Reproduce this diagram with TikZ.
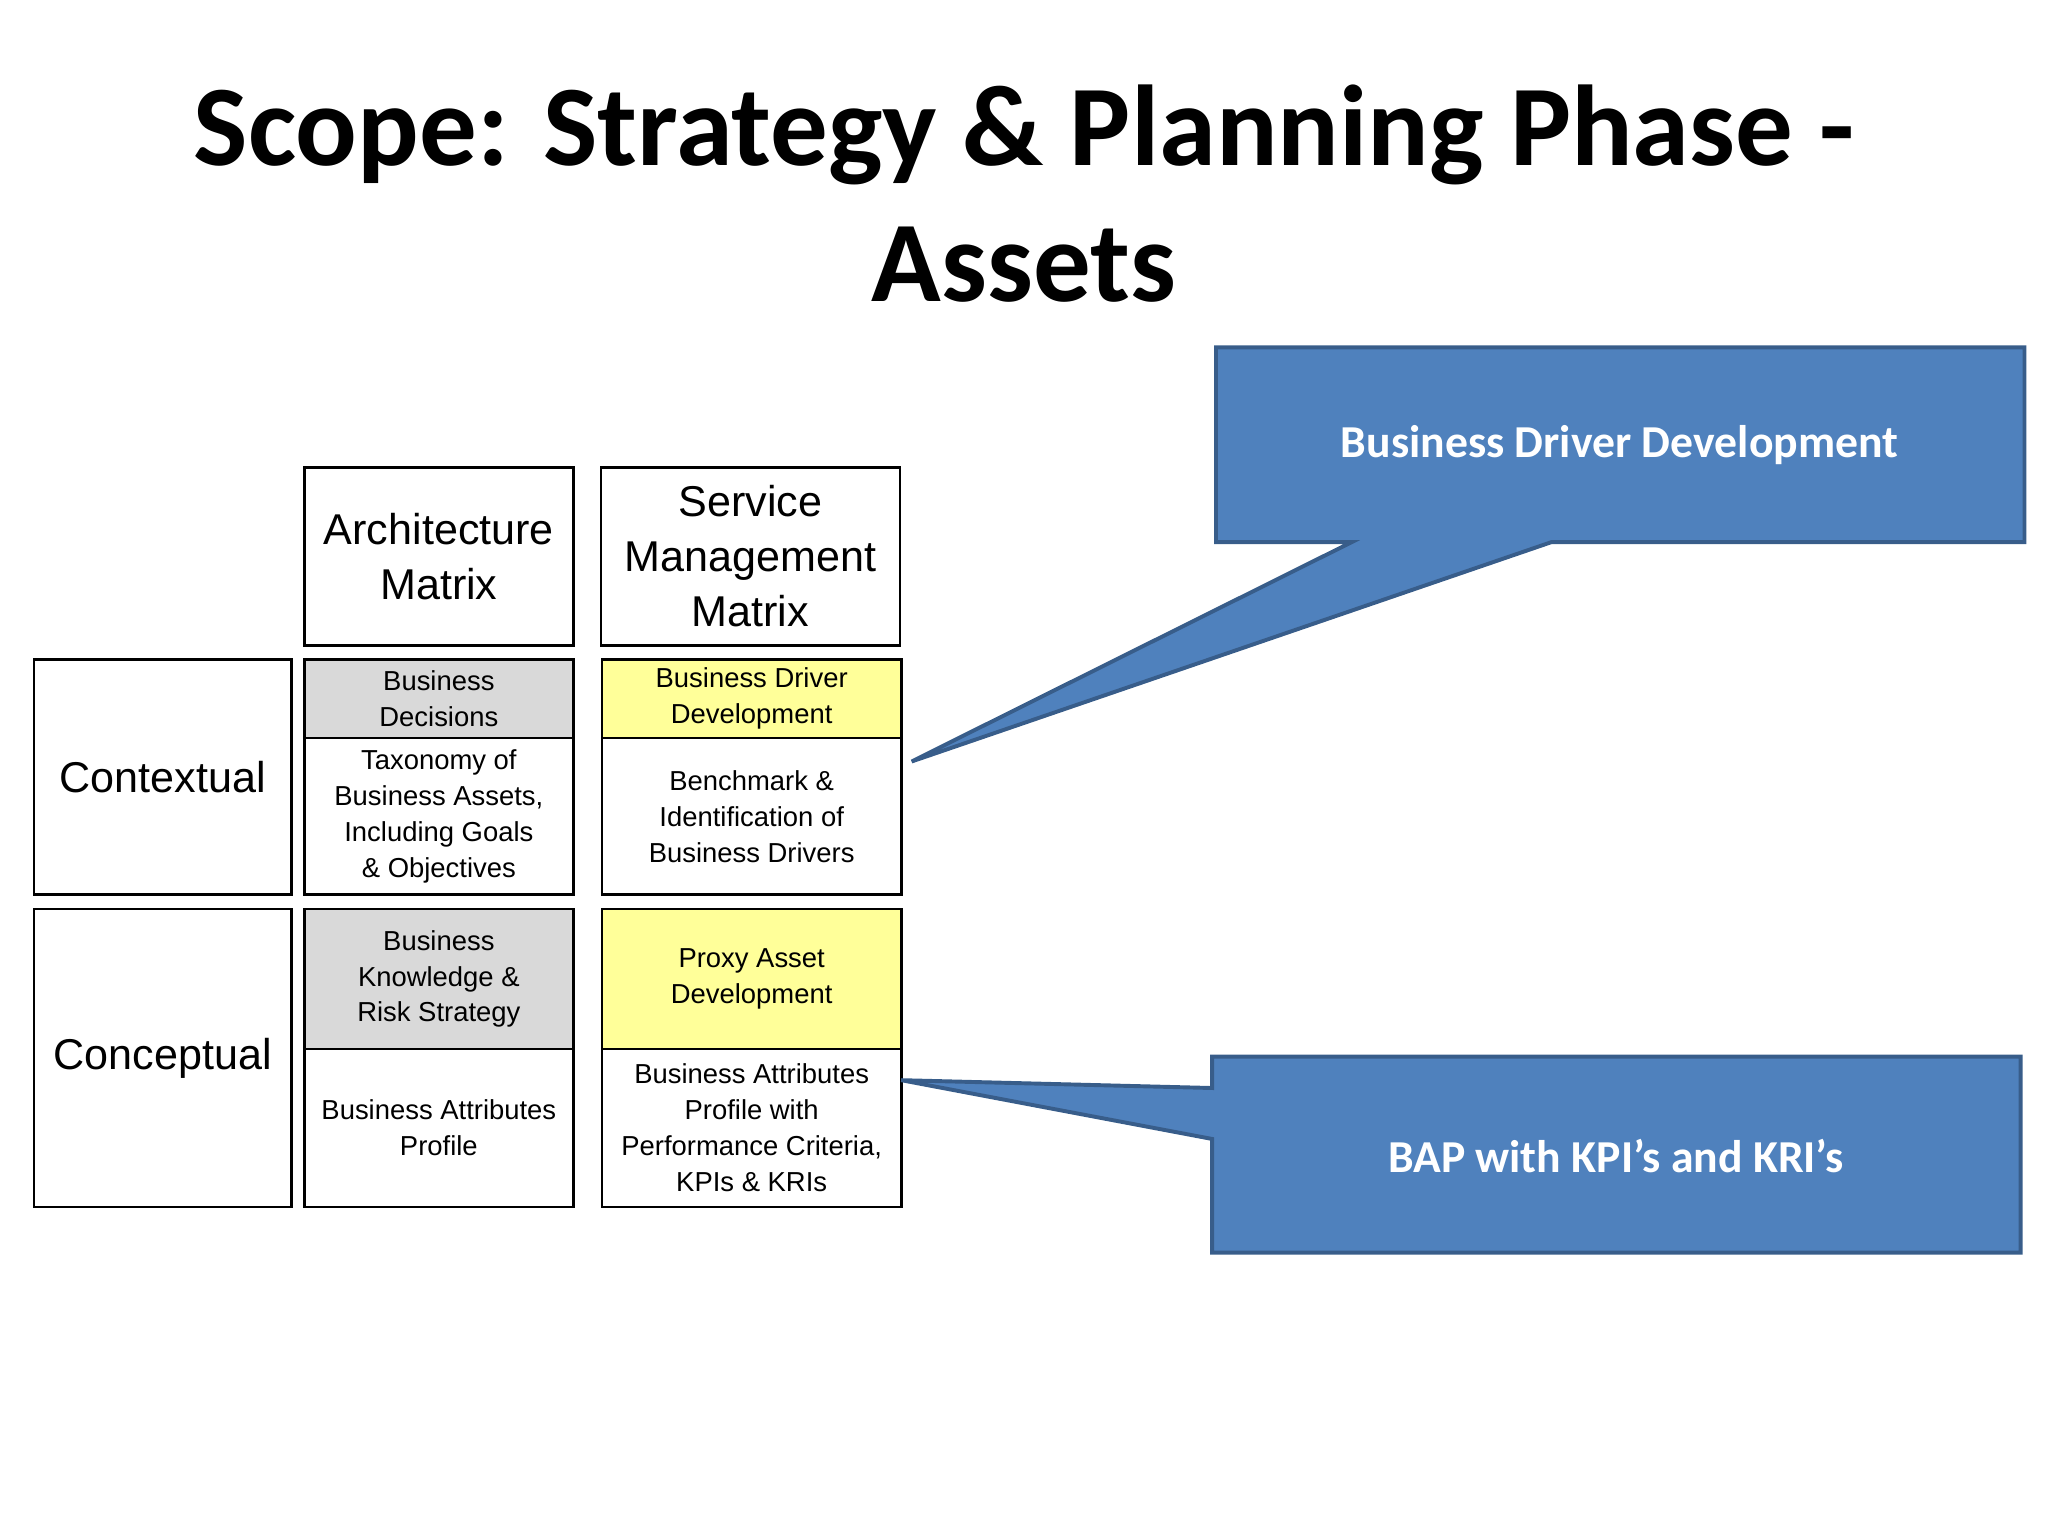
\documentclass[tikz,border=0pt]{standalone}
\usepackage{fontspec}
\setmainfont{Liberation Sans}
\newfontfamily\calib{Carlito}
\definecolor{cblue}{HTML}{4F81BD}
\definecolor{cedge}{HTML}{385D8A}
\definecolor{cgray}{HTML}{D9D9D9}
\definecolor{cyel}{HTML}{FFFF99}
\begin{document}
\begin{tikzpicture}[x=1pt,y=-1pt,
  cell/.style={draw=black,line width=2pt,minimum width=#1,align=center,inner sep=0pt,anchor=north west},
  ct/.style={font=\fontsize{21}{27.5}\selectfont},
  hd/.style={font=\fontsize{33}{42}\selectfont},
  call/.style={fill=cblue,draw=cedge,line width=3pt,line join=miter},
  ctext/.style={text=white,font=\calib\bfseries\fontsize{35}{42}\selectfont}]
\useasboundingbox (0,0) rectangle (1568,1176);
\node[font=\calib\bfseries\fontsize{88}{104}\selectfont,align=center] (title) at (784,148) {Scope: Strategy \& Planning Phase -\\Assets};
% headers
\node[cell=206pt,minimum height=136pt,hd] (am) at (232,357) {Architecture\\Matrix};
\node[cell=229pt,minimum height=136pt,hd] (sm) at (459,357) {Service\\Management\\Matrix};
\node[cell=197pt,minimum height=180pt,hd] (ctx) at (25,504) {Contextual};
\node[cell=197pt,minimum height=228pt,hd] (cnc) at (25,695) {Conceptual};
% column 2
\node[cell=206pt,minimum height=60pt,fill=cgray,ct] (bd) at (232,504) {Business\\Decisions};
\node[cell=206pt,minimum height=120pt,ct] (tax) at (232,564) {Taxonomy of\\Business Assets,\\Including Goals\\\& Objectives};
\node[cell=206pt,minimum height=107pt,fill=cgray,ct] (bk) at (232,695) {Business\\Knowledge \&\\Risk Strategy};
\node[cell=206pt,minimum height=121pt,ct] (bap) at (232,802) {Business Attributes\\Profile};
% column 3
\node[cell=229pt,minimum height=60pt,fill=cyel,ct] (bdd) at (460,504) {Business Driver\\Development};
\node[cell=229pt,minimum height=120pt,ct] (bench) at (460,564) {Benchmark \&\\Identification of\\Business Drivers};
\node[cell=229pt,minimum height=107pt,fill=cyel,ct] (pad) at (460,695) {Proxy Asset\\Development};
\node[cell=229pt,minimum height=121pt,ct] (bapw) at (460,802) {Business Attributes\\Profile with\\Performance Criteria,\\KPIs \& KRIs};
% callouts
\coordinate (t1) at (698,583);
\coordinate (t2) at (690,827);
\draw[call] (931,266) -- (1550,266) -- (1550,415) -- (1188,415) -- (t1) -- (1035,415) -- (931,415) -- cycle;
\node[ctext] (c1) at (1240,341) {Business Driver Development};
\draw[call] (928,809) -- (1547,809) -- (1547,959) -- (928,959) -- (928,872) -- (t2) -- (928,833) -- cycle;
\node[ctext] (c2) at (1237,885) {BAP with KPI’s and KRI’s};
\end{tikzpicture}
\end{document}
